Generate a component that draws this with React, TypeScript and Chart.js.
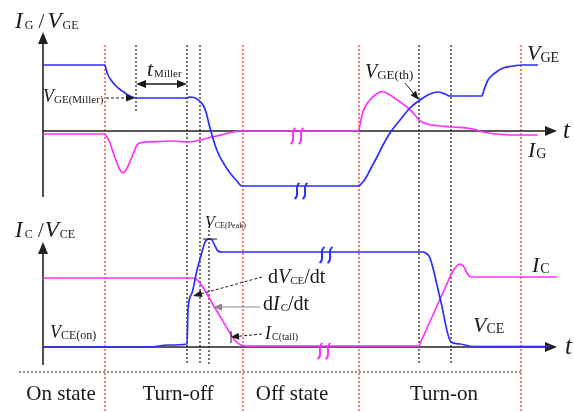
import { useEffect, useRef } from 'react';
import { Chart, registerables } from 'chart.js';

Chart.register(...registerables);

type Pt = [number, number];

// Upper panel: gate voltage and gate current (time, level) in arbitrary units
const vgeTrace: Pt[] = [
  [0, 66], [62, 66], [63, 62], [65, 56], [68, 51], [72, 46], [77, 41.5], [82, 38], [87, 35], [93, 33],
  [143, 33], [147, 33.8], [151, 33.5], [154, 32], [157, 29.5], [160, 26], [163, 19], [165, 11], [167, 3],
  [169, -4], [172, -14], [176, -24], [181, -33], [187, -42], [193, -49], [199, -55],
  [315, -55], [317, -54], [320, -51], [324, -45], [327, -39], [334, -26], [340, -14], [347, -2], [357, 11],
  [367, 23], [377, 31], [387, 37], [395, 39], [402, 37], [407, 35], [439, 35], [441, 41], [445, 51],
  [452, 58], [460, 63], [470, 65], [479, 66], [495, 66],
];
const igTrace: Pt[] = [
  [0, -3], [61, -3], [64, -6], [67, -12], [70, -21], [74, -32], [77, -39], [80, -42], [84, -37], [89, -26],
  [94, -14], [99, -11.5], [117, -10.5], [132, -10], [144, -11], [171.5, -5.5], [199, 0], [315, 0],
  [317, 6], [319, 16], [322, 24], [327, 31], [332, 36], [337, 39], [339, 39.5], [347, 36], [357, 29],
  [365, 23], [372, 16], [376, 11], [380, 8.5], [384, 7], [397, 5], [410, 4], [430, 2], [440, -1],
  [454, -3], [470, -4], [495, -4],
];

// Lower panel: collector current and collector-emitter voltage
const icTrace: Pt[] = [
  [0, 69], [149, 69], [153, 68], [157, 64], [172, 39], [187, 14], [192, 6.5], [197, 2.5], [203, 1],
  [376, 1], [378, 5.5], [391.5, 35.5], [405, 65.5], [407, 70], [412, 79], [417, 83], [421, 80],
  [424, 74], [428, 70], [514, 70],
];
const vceTrace: Pt[] = [
  [0, 0], [107, 0], [125, 2], [144, 3], [145, 37], [149, 54], [154, 77], [159, 95], [162, 105],
  [166, 108], [169, 107], [172, 101], [175, 96], [179, 95], [380, 95], [384, 93], [387, 89],
  [397.5, 47], [408, 5], [417, 3], [430, 0.5], [507, 0.5],
];

// Phase boundaries, phase names and switching instants on the time axis
const phaseBounds = [62, 200, 316, 478];
const phaseNames = ['On state', 'Turn-off', 'Off state', 'Turn-on'];
const phaseCenters = [18, 135, 249, 401];
const millerStart = 93;
const millerEnd = 144;
const gateFall = 157;
const vcePeakTime = 166;
const vcePeak = 108;
const turnOnStart = 376;
const turnOnEnd = 408;

const BLUE = '#2d2dff';
const MAGENTA = '#ff30ff';
const RED = '#ff3333';
const INK = '#1a1a1a';
const FONT = '"Liberation Serif", "Times New Roman", Times, serif';

interface Run { t: string; size: number; italic?: boolean; dy?: number; gap?: number }

function rich(ctx: CanvasRenderingContext2D, x: number, y: number, runs: Run[], color = INK) {
  ctx.save();
  ctx.fillStyle = color;
  ctx.textBaseline = 'alphabetic';
  ctx.textAlign = 'left';
  let cx = x;
  for (const r of runs) {
    cx += r.gap ?? 0;
    ctx.font = `${r.italic ? 'italic ' : ''}${r.size}px ${FONT}`;
    ctx.fillText(r.t, cx, y + (r.dy ?? 0));
    cx += ctx.measureText(r.t).width;
  }
  ctx.restore();
}

function head(ctx: CanvasRenderingContext2D, x1: number, y1: number, x2: number, y2: number, len: number, half: number) {
  const a = Math.atan2(y2 - y1, x2 - x1);
  const bx = x2 - len * Math.cos(a);
  const by = y2 - len * Math.sin(a);
  ctx.beginPath();
  ctx.moveTo(x2, y2);
  ctx.lineTo(bx + half * Math.sin(a), by - half * Math.cos(a));
  ctx.lineTo(bx - half * Math.sin(a), by + half * Math.cos(a));
  ctx.closePath();
  ctx.fill();
}

function arrow(
  ctx: CanvasRenderingContext2D, x1: number, y1: number, x2: number, y2: number,
  o: { color?: string; dash?: number[]; width?: number; len?: number; half?: number; both?: boolean } = {},
) {
  const { color = INK, dash = [], width = 1, len = 9, half = 3.5, both = false } = o;
  const a = Math.atan2(y2 - y1, x2 - x1);
  ctx.save();
  ctx.strokeStyle = color;
  ctx.fillStyle = color;
  ctx.lineWidth = width;
  ctx.setLineDash(dash);
  ctx.beginPath();
  const s = both ? len - 1 : 0;
  ctx.moveTo(x1 + s * Math.cos(a), y1 + s * Math.sin(a));
  ctx.lineTo(x2 - (len - 1) * Math.cos(a), y2 - (len - 1) * Math.sin(a));
  ctx.stroke();
  ctx.setLineDash([]);
  head(ctx, x1, y1, x2, y2, len, half);
  if (both) head(ctx, x2, y2, x1, y1, len, half);
  ctx.restore();
}

function seg(ctx: CanvasRenderingContext2D, x1: number, y1: number, x2: number, y2: number, color: string, width: number, dash: number[]) {
  ctx.save();
  ctx.strokeStyle = color;
  ctx.lineWidth = width;
  ctx.setLineDash(dash);
  ctx.beginPath();
  ctx.moveTo(x1, y1);
  ctx.lineTo(x2, y2);
  ctx.stroke();
  ctx.restore();
}

// Axis-break mark: a pair of small S-shaped strokes
function breakMark(ctx: CanvasRenderingContext2D, x: number, y: number, color: string) {
  ctx.save();
  ctx.strokeStyle = color;
  ctx.lineWidth = 2;
  for (const dx of [0, 8]) {
    const cx = x + dx;
    ctx.beginPath();
    ctx.moveTo(cx + 2.5, y - 8);
    ctx.bezierCurveTo(cx - 4, y - 4, cx + 4, y + 4, cx - 2.5, y + 8);
    ctx.stroke();
  }
  ctx.restore();
}

const schematic = {
  id: 'schematic',
  beforeDatasetsDraw(chart: any) {
    const ctx: CanvasRenderingContext2D = chart.ctx;
    const X = (v: number) => chart.scales.x.getPixelForValue(v);
    const T = (v: number) => chart.scales.yTop.getPixelForValue(v);
    const B = (v: number) => chart.scales.yBot.getPixelForValue(v);

    // phase boundaries
    for (const t of phaseBounds) seg(ctx, X(t), T(86), X(t), B(-65), RED, 1.3, [2, 2]);
    // switching instants
    seg(ctx, X(millerStart), T(86), X(millerStart), T(19), INK, 1.2, [2, 2]);
    for (const t of [millerEnd, gateFall, turnOnStart, turnOnEnd]) {
      seg(ctx, X(t), T(86), X(t), B(-18), INK, 1.2, [2, 2]);
    }
    seg(ctx, X(vcePeakTime), B(125), X(vcePeakTime), B(-18), INK, 1.2, [2, 2]);
    // separator above the phase names
    seg(ctx, X(-24), B(-25), X(479), B(-25), INK, 1, [2, 2]);

    // axes
    const ax = { color: '#222', width: 1.6, len: 12, half: 5 };
    arrow(ctx, X(0), T(-66), X(0), T(99), ax);
    arrow(ctx, X(0), T(0), X(514), T(0), ax);
    arrow(ctx, X(0), B(-18), X(0), B(105), ax);
    arrow(ctx, X(0), B(0), X(514), B(0), ax);
  },
  afterDatasetsDraw(chart: any) {
    const ctx: CanvasRenderingContext2D = chart.ctx;
    const X = (v: number) => chart.scales.x.getPixelForValue(v);
    const T = (v: number) => chart.scales.yTop.getPixelForValue(v);
    const B = (v: number) => chart.scales.yBot.getPixelForValue(v);

    // time-axis breaks
    breakMark(ctx, X(250), T(-5), MAGENTA);
    breakMark(ctx, X(254), T(-60), BLUE);
    breakMark(ctx, X(279), B(92), BLUE);
    breakMark(ctx, X(277), B(-4), MAGENTA);

    // axis titles
    rich(ctx, X(-28), T(103), [
      { t: 'I', size: 23, italic: true }, { t: 'G', size: 12, dy: 1, gap: 2 },
      { t: ' /', size: 21 }, { t: 'V', size: 23, italic: true, gap: 3 }, { t: 'GE', size: 12, dy: 1, gap: 1 },
    ]);
    rich(ctx, X(-28), B(110), [
      { t: 'I', size: 23, italic: true }, { t: 'C', size: 12, dy: 1, gap: 2 },
      { t: ' /', size: 21 }, { t: 'V', size: 23, italic: true, gap: 1 }, { t: 'CE', size: 12, dy: 1, gap: 1 },
    ]);
    rich(ctx, X(520), T(-7), [{ t: 't', size: 25, italic: true }]);
    rich(ctx, X(522), B(-7), [{ t: 't', size: 25, italic: true }]);

    // Miller plateau
    rich(ctx, X(104), T(55), [{ t: 't', size: 22, italic: true }, { t: 'Miller', size: 11, dy: 1, gap: 1 }]);
    arrow(ctx, X(millerStart), T(47), X(millerEnd), T(47), { both: true, width: 1.4, len: 10, half: 4 });
    rich(ctx, X(0), T(29), [{ t: 'V', size: 18, italic: true }, { t: 'GE(Miller)', size: 11, dy: 1 }]);
    arrow(ctx, X(63), T(33), X(92), T(33), { dash: [3, 2], len: 9, half: 3.5 });

    // threshold voltage
    rich(ctx, X(322), T(53), [{ t: 'V', size: 20, italic: true }, { t: 'GE(th)', size: 13, dy: 1 }]);
    arrow(ctx, X(362), T(48), X(376), T(31), { len: 9, half: 3.5 });

    rich(ctx, X(484), T(71), [{ t: 'V', size: 22, italic: true }, { t: 'GE', size: 14, dy: 2 }]);
    rich(ctx, X(485), T(-26), [{ t: 'I', size: 22, italic: true }, { t: 'G', size: 14, dy: 1, gap: 1 }]);

    // collector side annotations
    rich(ctx, X(162), B(120), [{ t: 'V', size: 16, italic: true }, { t: 'CE(Peak)', size: 8, dy: 1 }]);
    seg(ctx, X(vcePeakTime - 6), B(vcePeak), X(vcePeakTime + 8), B(vcePeak), INK, 1, []);

    rich(ctx, X(225), B(64), [
      { t: 'd', size: 20 }, { t: 'V', size: 20, italic: true }, { t: 'CE', size: 11, dy: 1 }, { t: '/dt', size: 20 },
    ]);
    arrow(ctx, X(219), B(70), X(150), B(51), { dash: [3, 2], len: 9, half: 3.5 });

    rich(ctx, X(220), B(37), [
      { t: 'd', size: 20 }, { t: 'I', size: 20, italic: true }, { t: 'C', size: 11, dy: 1, gap: 1 }, { t: '/dt', size: 20 },
    ]);
    arrow(ctx, X(217), B(40), X(170), B(40), { color: '#8a8a8a', len: 9, half: 3.5 });

    rich(ctx, X(222), B(8), [{ t: 'I', size: 18, italic: true }, { t: 'C(tail)', size: 10, dy: 1, gap: 1 }]);
    arrow(ctx, X(219), B(13), X(188), B(10), { dash: [3, 2], len: 8, half: 3.5 });
    seg(ctx, X(188), B(16), X(188), B(4), INK, 1, []);

    rich(ctx, X(7), B(9), [{ t: 'V', size: 18, italic: true }, { t: 'CE(on)', size: 12, dy: 1 }]);
    rich(ctx, X(489), B(75), [{ t: 'I', size: 22, italic: true }, { t: 'C', size: 14, dy: 1, gap: 1 }]);
    rich(ctx, X(430), B(15), [{ t: 'V', size: 22, italic: true }, { t: 'CE', size: 14, dy: 1 }]);

    // phase names
    ctx.save();
    ctx.fillStyle = INK;
    ctx.font = `21px ${FONT}`;
    ctx.textAlign = 'center';
    ctx.textBaseline = 'alphabetic';
    phaseNames.forEach((name, i) => ctx.fillText(name, X(phaseCenters[i]), B(-53)));
    ctx.restore();
  },
};

const toXY = (pts: Pt[]) => pts.map(([x, y]) => ({ x, y }));

export default function App() {
  const ref = useRef<HTMLCanvasElement>(null);

  useEffect(() => {
    const line = (label: string, pts: Pt[], axis: string, color: string) => ({
      label,
      data: toXY(pts),
      yAxisID: axis,
      borderColor: color,
      borderWidth: 1.7,
      pointRadius: 0,
      fill: false,
      cubicInterpolationMode: 'monotone' as const,
    });
    const chart = new Chart(ref.current!, {
      type: 'line',
      data: {
        datasets: [
          line('VGE', vgeTrace, 'yTop', BLUE),
          line('VCE', vceTrace, 'yBot', BLUE),
          line('IG', igTrace, 'yTop', MAGENTA),
          line('IC', icTrace, 'yBot', MAGENTA),
        ],
      },
      options: {
        animation: false,
        responsive: true,
        maintainAspectRatio: false,
        devicePixelRatio: 1,
        events: [],
        layout: { padding: 0 },
        plugins: { legend: { display: false }, tooltip: { enabled: false } },
        scales: {
          x: { type: 'linear', min: -43, max: 531, display: false },
          yTop: { type: 'linear', min: -281, max: 131, display: false },
          yBot: { type: 'linear', min: -65, max: 347, display: false },
        },
      },
      plugins: [schematic],
    } as any);
    return () => chart.destroy();
  }, []);

  return (
    <div style={{ position: 'fixed', left: 0, top: 0, width: 574, height: 412, background: '#fff' }}>
      <canvas ref={ref} />
    </div>
  );
}
